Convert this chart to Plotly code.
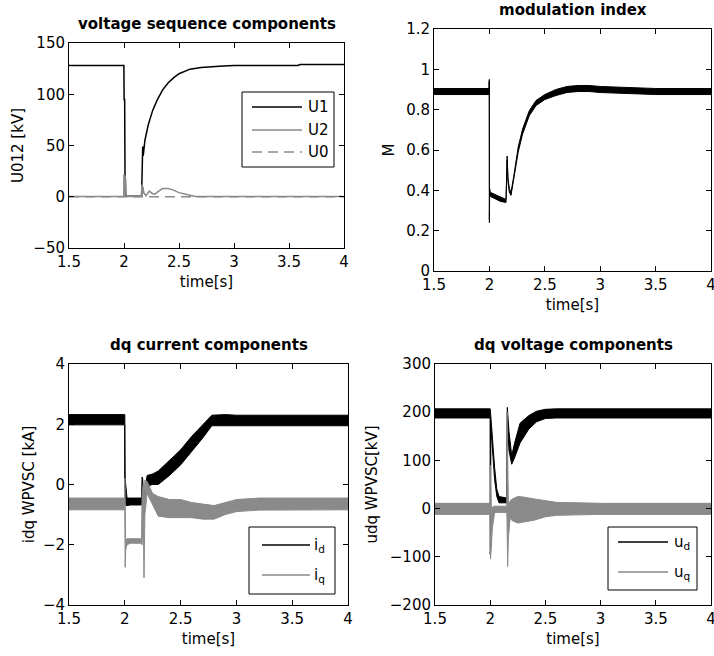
import plotly.graph_objects as go

W, H = 714, 656
FONT = "DejaVu Sans"
BLACK = "#000000"
GRAY = "#8a8a8a"

# ---------------- data ----------------
# voltage sequence components [kV]
t_u1 = [1.5, 1.999, 2.001, 2.006, 2.009, 2.015, 2.16, 2.165, 2.17, 2.175, 2.19, 2.22, 2.26,
        2.3, 2.35, 2.4, 2.45, 2.5, 2.55, 2.6, 2.7, 2.8, 2.9, 3.0, 3.58, 3.6, 4.0]
u1 = [128, 128, 95, 95, 25, 0.5, 0.5, 25, 49, 40, 55, 70, 84,
      94, 104, 111, 116, 120, 122.5, 124.5, 126, 127, 127.5, 128, 128, 129, 129]
t_u2 = [1.5, 1.998, 1.999, 2.001, 2.003, 2.006, 2.01, 2.012, 2.015, 2.02, 2.16, 2.163, 2.168,
        2.172, 2.18, 2.2, 2.23, 2.26, 2.28, 2.31, 2.35, 2.4, 2.45, 2.5, 2.55, 2.6, 2.65, 4.0]
u2 = [0.3, 0.3, 22, 2, 22, 3, 21, 2, 18, 0.3, 0.3, 12, 3,
      10, 4, 1, 5.5, 3, 2.6, 5, 8, 8, 6.5, 4, 2.5, 1.5, 0.3, 0.3]
t_u0 = [1.5, 4.0]
u0 = [0, 0]

# modulation index (envelope of the ripple band)
t_m = [1.5, 1.998, 1.999, 2.0, 2.002, 2.008, 2.05, 2.1, 2.15, 2.16, 2.168, 2.18, 2.195, 2.22,
       2.26, 2.3, 2.36, 2.42, 2.5, 2.6, 2.7, 2.8, 2.9, 3.0, 3.2, 3.5, 4.0]
m_hi = [0.905, 0.905, 0.95, 0.26, 0.41, 0.39, 0.38, 0.365, 0.355, 0.57, 0.46, 0.41, 0.39, 0.47,
        0.615, 0.705, 0.795, 0.845, 0.875, 0.90, 0.915, 0.92, 0.92, 0.915, 0.91, 0.905, 0.905]
m_lo = [0.875, 0.875, 0.94, 0.24, 0.385, 0.37, 0.36, 0.345, 0.34, 0.55, 0.44, 0.39, 0.375, 0.45,
        0.59, 0.68, 0.77, 0.82, 0.85, 0.87, 0.885, 0.89, 0.89, 0.885, 0.88, 0.875, 0.875]

# dq current components [kA]
t_id = [1.5, 1.999, 2.0, 2.003, 2.01, 2.02, 2.05, 2.1, 2.15, 2.155, 2.16, 2.165, 2.175, 2.2,
        2.25, 2.3, 2.4, 2.5, 2.6, 2.7, 2.78, 2.9, 3.0, 3.5, 4.0]
id_hi = [2.32, 2.32, 2.32, 0.2, -0.2, -0.45, -0.45, -0.45, -0.45, 0.25, 0.2, -0.2, -0.3, 0.3,
         0.35, 0.45, 0.8, 1.15, 1.6, 2.0, 2.3, 2.32, 2.3, 2.3, 2.3]
id_lo = [1.98, 1.98, 0.0, -0.3, -0.7, -0.7, -0.68, -0.68, -0.68, -0.6, -0.3, -0.7, -0.6, -0.05,
         0.0, 0.0, 0.3, 0.65, 1.1, 1.55, 1.95, 1.95, 1.95, 1.95, 1.95]
t_iq = [1.5, 1.999, 2.0, 2.003, 2.008, 2.012, 2.02, 2.05, 2.1, 2.15, 2.155, 2.165, 2.172, 2.18,
        2.2, 2.25, 2.3, 2.4, 2.5, 2.6, 2.7, 2.8, 2.9, 3.0, 3.2, 3.5, 4.0]
iq_hi = [-0.45, -0.45, 0.2, -0.5, -1.9, -1.85, -1.8, -1.8, -1.8, -1.8, -0.3, 0.0, -0.5, 0.15,
         0.1, -0.3, -0.4, -0.5, -0.5, -0.6, -0.65, -0.7, -0.6, -0.5, -0.45, -0.45, -0.45]
iq_lo = [-0.84, -0.84, -0.8, -2.75, -2.2, -2.1, -2.0, -1.95, -1.95, -1.95, -2.0, -0.9, -3.1, -1.0,
         -0.3, -0.7, -1.05, -1.1, -1.1, -1.1, -1.15, -1.15, -1.0, -0.9, -0.85, -0.84, -0.84]

# dq voltage components [kV]
t_ud = [1.5, 1.999, 2.0, 2.003, 2.006, 2.02, 2.04, 2.06, 2.08, 2.15, 2.155, 2.17, 2.195,
        2.22, 2.27, 2.35, 2.42, 2.5, 2.6, 4.0]
ud_hi = [207, 207, 207, 200, 190, 155, 85, 40, 25, 22, 210, 160, 110,
         135, 177, 193, 202, 206, 207, 207]
ud_lo = [188, 188, -95, -90, 170, 130, 60, 25, 12, 12, 190, 120, 92,
         105, 136, 165, 180, 187, 188, 188]
t_uq = [1.5, 1.999, 2.0, 2.003, 2.01, 2.02, 2.04, 2.1, 2.15, 2.152, 2.158, 2.165, 2.18, 2.2,
        2.25, 2.3, 2.4, 2.5, 2.6, 2.8, 3.0, 4.0]
uq_hi = [11, 11, 90, 20, 5, 3, 5, 5, 5, 200, 60, 10, 15, 20, 25, 24, 20, 16, 13, 12, 11, 11]
uq_lo = [-12, -12, -10, -105, -80, -40, -8, -8, -8, -20, -120, -60, -20, -25, -30, -28, -24, -17,
         -14, -13, -12, -12]

# ---------------- figure ----------------
fig = go.Figure()


def line(x, y, color, ax, width=1.5, dash=None):
    fig.add_trace(go.Scatter(x=x, y=y, mode="lines", xaxis=ax[0], yaxis=ax[1],
                             line=dict(color=color, width=width, dash=dash),
                             showlegend=False, hoverinfo="skip"))


def band(x, lo, hi, color, ax):
    fig.add_trace(go.Scatter(x=x, y=lo, mode="lines", xaxis=ax[0], yaxis=ax[1],
                             line=dict(color=color, width=1), showlegend=False, hoverinfo="skip"))
    fig.add_trace(go.Scatter(x=x, y=hi, mode="lines", xaxis=ax[0], yaxis=ax[1],
                             line=dict(color=color, width=1), fill="tonexty", fillcolor=color,
                             showlegend=False, hoverinfo="skip"))


line(t_u1, u1, BLACK, ("x", "y"))
line(t_u2, u2, GRAY, ("x", "y"))
line(t_u0, u0, GRAY, ("x", "y"), width=1.3, dash="10px,6px")

band(t_m, m_lo, m_hi, BLACK, ("x2", "y2"))

band(t_id, id_lo, id_hi, BLACK, ("x3", "y3"))
band(t_iq, iq_lo, iq_hi, GRAY, ("x3", "y3"))

band(t_ud, ud_lo, ud_hi, BLACK, ("x4", "y4"))
band(t_uq, uq_lo, uq_hi, GRAY, ("x4", "y4"))

# panel pixel boxes (left, right, top, bottom)
boxes = {
    1: (69, 344, 43, 248),
    2: (434, 711, 29, 271),
    3: (69, 348, 364, 605),
    4: (435, 711, 364, 605),
}
yranges = {1: ([-50, 150], 50), 2: ([0, 1.2], 0.2), 3: ([-4, 4], 2), 4: ([-200, 300], 100)}
ytitles = {1: ("U012 [kV]", 6), 2: ("M", 7), 3: ("idq WPVSC [kA]", 4), 4: ("udq WPVSC[kV]", 8)}
titles = {1: "voltage sequence components", 2: "modulation index",
          3: "dq current components", 4: "dq voltage components"}

tickfont = dict(family=FONT, size=15, color="black")
common = dict(ticks="inside", ticklen=5, tickcolor="black", tickwidth=1, showline=True,
              linecolor="black", linewidth=1, mirror="allticks", showgrid=False,
              zeroline=False, tickfont=tickfont, automargin=False,
              ticklabeloverflow="allow")

layout = {}
for i, (l, r, t, b) in boxes.items():
    sx = "" if i == 1 else str(i)
    layout["xaxis" + sx] = dict(domain=[l / W, r / W], anchor="y" + sx, range=[1.5, 4],
                                tick0=1.5, dtick=0.5,
                                title=dict(text="time[s]", font=tickfont, standoff=6), **common)
    yr, dt = yranges[i]
    layout["yaxis" + sx] = dict(domain=[1 - b / H, 1 - t / H], anchor="x" + sx, range=yr,
                                tick0=yr[0], dtick=dt,
                                title=dict(text=ytitles[i][0], font=tickfont,
                                           standoff=ytitles[i][1]), **common)

annotations = []
for i, (l, r, t, b) in boxes.items():
    annotations.append(dict(text="<b>" + titles[i] + "</b>", x=(l + r) / 2 / W,
                            y=1 - (t - 19) / H, xref="paper", yref="paper",
                            xanchor="center", yanchor="middle", showarrow=False,
                            font=dict(family=FONT, size=15, color="black")))

shapes = []


def legend(box, entries):
    l, r, t, b = box
    shapes.append(dict(type="rect", xref="paper", yref="paper", x0=l / W, x1=r / W,
                       y0=1 - b / H, y1=1 - t / H, line=dict(color="black", width=1),
                       fillcolor="white", layer="above"))
    for (ypx, x0, x1, xt, label, color, dash) in entries:
        shapes.append(dict(type="line", xref="paper", yref="paper", x0=x0 / W, x1=x1 / W,
                           y0=1 - ypx / H, y1=1 - ypx / H, layer="above",
                           line=dict(color=color, width=1.5, dash=dash)))
        annotations.append(dict(text=label, x=xt / W, y=1 - ypx / H, xref="paper",
                                yref="paper", xanchor="left", yanchor="middle",
                                showarrow=False,
                                font=dict(family=FONT, size=15, color="black")))


legend((242, 334, 92, 167), [
    (107, 252, 302, 306, "U1", BLACK, None),
    (130, 252, 302, 306, "U2", GRAY, None),
    (152, 252, 302, 306, "U0", GRAY, "10px,6px"),
])
legend((249, 335, 527, 594), [
    (545, 262, 310, 312, "i<sub>d</sub>", BLACK, None),
    (575, 262, 310, 312, "i<sub>q</sub>", GRAY, None),
])
legend((608, 697, 527, 590), [
    (542, 618, 668, 672, "u<sub>d</sub>", BLACK, None),
    (572, 618, 668, 672, "u<sub>q</sub>", GRAY, None),
])

fig.update_layout(width=W, height=H, margin=dict(l=0, r=0, t=0, b=0),
                  paper_bgcolor="white", plot_bgcolor="white", showlegend=False,
                  font=dict(family=FONT, size=15, color="black"),
                  annotations=annotations, shapes=shapes, **layout)

fig.write_html("out.html")
